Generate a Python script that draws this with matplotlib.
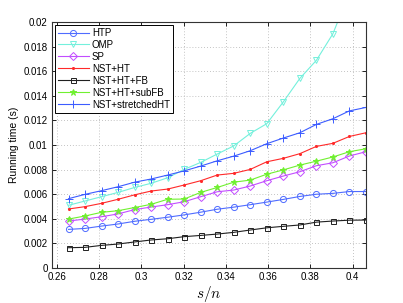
import matplotlib
matplotlib.use("Agg")
import matplotlib.pyplot as plt
import numpy as np
from matplotlib.ticker import FuncFormatter

n = 256
s_vals = list(range(68, 105, 2))

htp = [0.00314, 0.00322, 0.00341, 0.00358, 0.00380, 0.00396, 0.00413, 0.00432, 0.00454, 0.00478,
       0.00495, 0.00515, 0.00536, 0.00558, 0.00582, 0.00600, 0.00607, 0.00622, 0.00622]
omp = [0.00510, 0.00545, 0.00580, 0.00615, 0.00655, 0.00689, 0.00734, 0.00802, 0.00859, 0.00927,
       0.00993, 0.01095, 0.01174, 0.01351, 0.01542, 0.01689, 0.01905, 0.0224, 0.0260]
sp = [0.00382, 0.00398, 0.00417, 0.00440, 0.00475, 0.00496, 0.00515, 0.00539, 0.00580, 0.00620,
      0.00634, 0.00667, 0.00710, 0.00748, 0.00783, 0.00832, 0.00856, 0.00911, 0.00946]
nst_ht = [0.00480, 0.00499, 0.00526, 0.00559, 0.00595, 0.00626, 0.00642, 0.00675, 0.00710, 0.00756,
          0.00770, 0.00802, 0.00864, 0.00892, 0.00930, 0.00989, 0.01014, 0.01070, 0.01100]
nst_ht_fb = [0.00165, 0.00168, 0.00184, 0.00195, 0.00212, 0.00228, 0.00238, 0.00255, 0.00265, 0.00276,
             0.00290, 0.00309, 0.00327, 0.00339, 0.00350, 0.00373, 0.00382, 0.00389, 0.00390]
nst_ht_subfb = [0.00398, 0.00423, 0.00453, 0.00466, 0.00492, 0.00518, 0.00559, 0.00561, 0.00615, 0.00655,
                0.00698, 0.00715, 0.00763, 0.00798, 0.00837, 0.00869, 0.00903, 0.00946, 0.00970]
nst_stretched = [0.00564, 0.00599, 0.00629, 0.00661, 0.00698, 0.00724, 0.00756, 0.00790, 0.00829, 0.00872,
                 0.00910, 0.00954, 0.01011, 0.01057, 0.01100, 0.01168, 0.01214, 0.01278, 0.01306]

labels = ["HTP", "OMP", "SP", "NST+HT", "NST+HT+FB", "NST+HT+subFB", "NST+stretchedHT"]
xticks = [0.26, 0.28, 0.30, 0.32, 0.34, 0.36, 0.38, 0.40]
yticks = [0, 0.002, 0.004, 0.006, 0.008, 0.01, 0.012, 0.014, 0.016, 0.018, 0.02]

plt.rcParams['font.family'] = ['Liberation Sans', 'DejaVu Sans']
plt.rcParams['mathtext.fontset'] = 'cm'

x = np.array(s_vals) / n

fig = plt.figure(figsize=(4.03, 3.03), dpi=100)
ax = fig.add_axes([0.129, 0.1155, 0.779, 0.8115])

series = [htp, omp, sp, nst_ht, nst_ht_fb, nst_ht_subfb, nst_stretched]
styles = [
    dict(color="#4f6cff", marker="o", mfc="none", ms=4.4),
    dict(color="#74f0dc", marker="v", mfc="none", ms=5.0),
    dict(color="#c24dff", marker="D", mfc="none", ms=3.6),
    dict(color="#ff2a2a", marker=".", ms=3.0),
    dict(color="#202020", marker="s", mfc="none", ms=3.6),
    dict(color="#70f030", marker="*", ms=5.0),
    dict(color="#3c5cff", marker="+", ms=6.0),
]
for y, lab, st in zip(series, labels, styles):
    ax.plot(x, y, label=lab, lw=0.8, mew=0.7, **st)

ax.set_xlim(66 / n, 104 / n)
ax.set_ylim(0, 0.02)
ax.set_xticks(xticks)
ax.set_yticks(yticks)
fmt = FuncFormatter(lambda v, p: "%g" % round(v, 6))
ax.xaxis.set_major_formatter(fmt)
ax.yaxis.set_major_formatter(fmt)
ax.tick_params(direction="in", top=True, right=True, labelsize=7, length=3, width=0.6, pad=3)
ax.grid(True, linestyle=(0, (1, 2.5)), color="#b0b0b0", lw=0.6)
for sp_ in ax.spines.values():
    sp_.set_linewidth(0.8)
    sp_.set_color("#333333")

ax.set_xlabel(r"$s/n$", fontsize=11, labelpad=1)
ax.set_ylabel("Running time (s)", fontsize=7.5, labelpad=3)

leg = ax.legend(loc="upper left", fontsize=7, frameon=True, fancybox=False,
                edgecolor="black", framealpha=1, borderpad=0.3, labelspacing=0.2,
                handlelength=3.2, handletextpad=0.3, borderaxespad=0.3)
leg.get_frame().set_linewidth(0.7)

fig.savefig("out.png", dpi=100)
